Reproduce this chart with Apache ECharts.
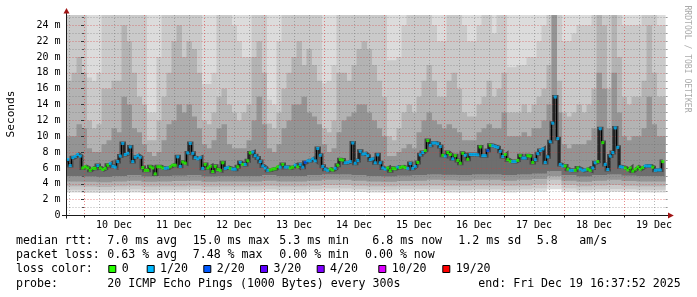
<!DOCTYPE html>
<html><head><meta charset="utf-8">
<script src="https://cdn.jsdelivr.net/npm/echarts@6/dist/echarts.min.js"></script>
<style>html,body{margin:0;padding:0;background:#fff}#c{width:697px;height:297px}</style>
</head><body><div id="c"></div>
<script>
// ---------------- data ----------------
const dayLabels = ['10 Dec','11 Dec','12 Dec','13 Dec','14 Dec','15 Dec','16 Dec','17 Dec','18 Dec','19 Dec'];
const yTickValues = [0,2,4,6,8,10,12,14,16,18,20,22,24];
const firstSampleHour = -6.5;   // hours relative to 10 Dec 00:00
const sampleHours = 1;
// median rtt in ms, one per hour
const median = [
7.07,6.3,7.3,7.45,7.7,7.5,6.0,6.15,6.0,5.7,5.95,5.95,6.3,6.0,5.8,5.95,6.35,6.55,6.2,6.1,6.8,7.5,9.1,7.7,7.85,8.65,6.8,7.35,7.55,7.35,
6.05,5.7,5.7,6.15,6.0,5.25,6.15,6.15,6.0,5.95,6.0,6.15,6.35,6.35,7.4,6.2,6.75,6.6,7.9,9.1,7.85,7.3,7.15,7.3,5.95,6.45,6.0,6.2,5.55,6.2,
5.8,5.7,6.65,5.95,6.05,5.95,5.85,5.85,6.15,6.7,6.45,6.45,6.9,7.9,8.0,7.55,7.25,6.8,6.25,6.0,5.7,5.75,5.85,5.9,6.15,6.1,6.45,6.1,6.1,6.0,
6.1,6.35,6.15,6.45,6.1,6.7,6.9,6.9,7.15,6.9,8.45,7.6,6.2,5.85,5.7,5.85,5.75,5.95,6.35,7.05,7.0,6.65,6.7,6.8,9.15,6.6,6.95,8.1,7.75,
7.8,7.55,7.05,7.15,6.65,7.65,6.65,6.0,5.85,6.0,5.65,5.95,5.9,6.1,6.05,6.15,6.05,5.95,6.55,5.95,6.2,6.7,7.65,7.95,8.2,9.45,8.85,9.15,9.15,9.05,
8.7,7.6,7.5,7.95,7.7,7.15,7.55,6.95,6.6,7.85,7.6,7.1,7.7,7.7,7.7,7.65,8.65,7.55,7.55,8.2,8.85,8.8,8.7,8.6,8.1,7.45,7.7,7.05,6.85,6.8,
6.8,6.95,7.55,7.25,7.25,7.55,7.5,6.7,7.05,7.8,8.2,8.4,6.7,7.4,9.3,11.65,14.95,9.7,6.45,6.25,6.25,5.85,5.7,5.7,5.7,6.0,5.85,5.7,5.75,5.85,
5.7,6.0,6.65,6.8,10.95,9.2,6.45,5.8,7.5,7.95,11.05,8.6,6.15,6.1,6.0,5.75,6.0,5.6,5.85,6.1,5.85,6.05,6.25,6.25,6.25,6.1,5.7,5.75,5.75,6.8
];
// packet loss level index per hour (0 -> '0', 1 -> '1/20', 2 -> '2/20')
const lossLevel = [
1,1,1,1,1,1,0,0,0,0,0,0,1,0,0,0,0,1,1,1,1,1,1,1,1,1,1,1,1,1,0,0,0,0,0,0,0,0,0,1,1,0,0,0,1,1,0,0,1,1,1,1,1,1,1,0,0,0,0,0,
0,0,0,1,1,0,1,1,0,1,0,1,0,0,1,1,1,1,1,1,1,0,0,0,0,1,0,1,1,0,0,1,0,1,1,2,1,1,1,1,1,1,1,1,1,0,0,1,0,0,0,1,1,1,1,1,1,1,1,
1,1,1,1,1,1,1,1,1,0,0,0,0,1,0,0,0,1,1,1,1,0,1,1,0,0,1,1,1,1,1,0,1,0,0,1,0,0,0,0,1,0,1,1,1,1,0,1,1,2,0,1,1,1,1,1,0,0,0,1,
1,0,0,1,1,0,0,0,1,1,1,1,1,1,1,1,1,1,1,1,0,0,1,1,0,0,1,1,1,0,0,1,1,0,1,0,1,1,1,1,1,1,1,1,0,0,0,0,0,0,0,0,1,1,1,0,1,1,1,0
];
const lossColors = ['#26ff00','#00b8ff','#0059ff','#5e00ff','#7e00ff','#dd00ff','#ff0000'];
const lossLabels = ['0','1/20','2/20','3/20','4/20','10/20','19/20'];

// smoke: upper edges of the grey layers, one value per 2-hour block (ms)
const smokeTopHours = 2;
const smokeTop1 = [26,26,26,26,17.4,17,18,26,26,26, 26,26,26,26,26,26,13,13,20,26, 26,26,26,26,26,26,26,16.6,16.6,18,
  26,26,26,24,22,20,20,26,26,26, 14.6,14,22,26,26,26,26,26,26,26, 26,16.7,17,19,26,26,26,26,26,26,
  26,26,26,26,19.6,19.6,20,24,26,26, 26,26,26,24,22,22,26,26,26,24, 22,22,24,26,26,23,26,26,18.7,18.7,
  19,19,20,20,22,24,26,26,26,22, 22,23,24,24,24,26,26,26,26,26, 26,24,24,24,24,26,26,26,24,24];
const smokeTop2 = [17,18,20,18,12,11,11.5,16,16,17, 17,24,22,18,15,14,9.5,9.5,12,15, 18,22,24,20,22,21,18,12,11.5,13,
  15,16,14,13,12,13,14,20,22,18, 11.6,11,13,16,18,20,22,19,21,19, 17,11,10.5,12,18,18,17,19,21,22,
  21,19,17,15,10,9.5,11,13,14,13, 15,17,19,17,15,15,17,18,16,13, 12.5,12.5,14,15,17,15,16,18,13,13,
  13,14,13,14,15,16,19,26,17,13, 12.5,13,14,13,14,16,26,24,16,26, 20,15,14,15,15,17,24,18,15,15];
const smokeTop3 = [10,10,11.5,11,8.5,8,8,9,9.5,11, 10.5,15,14,11,10.5,9,8,7.5,8,9.5, 11.5,12,14,13,14,12.5,11,9,8.5,9.5,
  11,11.5,9,8.5,8.5,8.5,9.5,12,15,11.5, 8.5,8,9,11,12,14,14,15,13,12.5, 11.5,9,8,8.5,10.5,12,12.5,13,14,14,
  13,12,11,10,7.5,7.5,8,8.5,9,8.5, 10.5,12,13,12,11.5,11,11.5,11,10.5,9.5, 9.5,9.5,10.5,11,11.5,11,11,13,10,10,
  10,10.5,10,11,11,12,14,26,13,9, 8.5,9,9,9,9.5,11,18,16,11,18, 13,10,9.5,10,10,11,15,11.5,10,10];
// smoke: lower edges of the grey layers, one value per 6-hour block (ms)
const smokeLowHours = 6;
const smokeTop0 = [26,26,26,26,26,26,26,26,26,26,26,26,26,26,26,26,26,26,26,26,26,26,26,26,26,26,26,26,26,26,26,26,26,26,26,26,26,26,26,26];
const smokeLow0 = [2.9,2.85,2.85,2.9,2.9,2.85,2.9,2.9,2.9,2.85,2.9,2.9,2.9,2.95,2.9,2.9,2.95,3.0,3.0,2.95,2.9,2.9,2.95,2.95,2.95,2.9,2.9,2.95,2.95,2.9,2.95,3.0,3.3,3.0,2.9,2.95,3.0,2.95,2.9,2.9];
const smokeLow1 = [3.25,3.2,3.2,3.25,3.3,3.2,3.25,3.25,3.3,3.2,3.25,3.25,3.25,3.3,3.25,3.25,3.3,3.4,3.4,3.3,3.25,3.25,3.3,3.3,3.3,3.25,3.25,3.3,3.3,3.25,3.3,3.4,3.9,3.4,3.25,3.3,3.35,3.3,3.25,3.25];
const smokeLow2 = [3.7,3.65,3.6,3.7,3.75,3.65,3.7,3.7,3.75,3.65,3.7,3.7,3.7,3.75,3.7,3.7,3.75,3.85,3.85,3.75,3.7,3.7,3.75,3.75,3.8,3.75,3.75,3.8,3.8,3.75,3.8,3.9,4.5,3.85,3.7,3.8,3.85,3.75,3.7,3.7];
const smokeLow3 = [4.3,4.25,4.2,4.3,4.4,4.25,4.3,4.35,4.4,4.25,4.3,4.3,4.3,4.4,4.3,4.3,4.4,4.5,4.5,4.4,4.3,4.25,4.35,4.4,4.5,4.45,4.4,4.5,4.5,4.4,4.5,4.6,5.0,4.4,4.25,4.4,4.5,4.35,4.3,4.3];
const smokeLow4 = [5.0,4.95,4.9,5.0,5.1,4.95,5.0,5.05,5.1,4.95,5.0,5.0,5.0,5.1,5.0,5.0,5.1,5.2,5.2,5.1,5.0,4.95,5.05,5.1,5.2,5.15,5.1,5.2,5.2,5.1,5.2,5.3,5.6,5.1,4.95,5.1,5.2,5.05,5.0,5.0];

// ---------------- layout ----------------
const W = 697, H = 297;
const G = {left:66.5, top:15, right:31.4, bottom:81.5};
const X_MIN = -7, X_MAX = 232.63, Y_MAX = 25.3;
const MONO = '"DejaVu Sans Mono", monospace';
const majorGrid = 'rgba(215,60,60,0.6)';
const minorGrid = 'rgba(110,110,110,0.5)';

const midnights = dayLabels.map((_, k) => 24 * k);
const noons = dayLabels.map((_, k) => 12 + 24 * k);
const sixHours = [];
for (let h = -6; h < X_MAX; h += 6) if (h % 24 !== 0) sixHours.push(h);
const yOdd = yTickValues.map(v => v + 1);
const yAll = [];
for (let v = 1; v <= 25; v++) yAll.push(v);

const hourOf = i => firstSampleHour + i * sampleHours;
const t0 = firstSampleHour - sampleHours / 2;

// build [h0, h1, lo, hi] cells: tops at one resolution, lows at another
function cells(tops, topHours, lows, lowHours) {
  return tops.map((hi, k) => {
    const h0 = t0 + k * topHours;
    const lo = lows[Math.floor((k * topHours) / lowHours)];
    return [h0, h0 + topHours, lo, hi];
  });
}
function bandSeries(data, color, z) {
  return {
    type: 'custom', z: z || 1, silent: true, clip: true,
    xAxisIndex: 0, yAxisIndex: 0,
    encode: {x: [0, 1], y: [2, 3]},
    renderItem(params, api) {
      const p0 = api.coord([api.value(0), api.value(3)]);
      const p1 = api.coord([api.value(1), api.value(2)]);
      const r = echarts.graphic.clipRectByRect(
        {x: p0[0], y: p0[1], width: p1[0] - p0[0] + 0.5, height: p1[1] - p0[1]}, params.coordSys);
      return r && {type: 'rect', shape: r, style: {fill: color}};
    },
    data
  };
}

const medianData = median.map((v, i) => [hourOf(i), v]);

const series = [
  bandSeries(cells(smokeTop0, smokeLowHours, smokeLow0, smokeLowHours), '#dcdcdc'),
  bandSeries(cells(smokeTop1, smokeTopHours, smokeLow1, smokeLowHours), '#cacaca'),
  bandSeries(cells(smokeTop2, smokeTopHours, smokeLow2, smokeLowHours), '#b3b3b3'),
  bandSeries(cells(smokeTop3, smokeTopHours, smokeLow3, smokeLowHours), '#949494'),
  bandSeries(cells(median, sampleHours, smokeLow4, smokeLowHours), '#6e6e6e'),
  {type:'line', z:1, silent:true, step:'middle', symbol:'none', data: medianData,
   lineStyle:{width:4, color:'#484848', cap:'butt', join:'miter'}},
  {type:'line', z:3, silent:true, step:'middle', symbol:'none', data: medianData,
   lineStyle:{width:1, color:'#000'}},
  {type:'scatter', z:4, silent:true, symbol:'rect', symbolSize:[3,3], data: medianData,
   itemStyle:{color: p => lossColors[lossLevel[p.dataIndex]]}}
];

// ---------------- legend / decorations ----------------
const gx0 = G.left, gy0 = H - G.bottom;
const graphics = [];
const txt = (x, y, s, opt = {}) => graphics.push(Object.assign({
  type:'text', x, y, z:100, silent:true,
  style: Object.assign({text:s, font:'11.6px ' + MONO, fill:'#000', verticalAlign:'middle', align:'left'}, opt.style || {})
}, opt.el || {}));

const legendRows = [
  {y:241, items:[[16,'median rtt:'],[107.3,'7.0 ms avg'],[192.7,'15.0 ms max'],[279.3,'5.3 ms min'],[372.3,'6.8 ms now'],[458.3,'1.2 ms sd'],[536.7,'5.8'],[579.3,'am/s']]},
  {y:255.3, items:[[16,'packet loss:'],[107.3,'0.63 % avg'],[192.7,'7.48 % max'],[279.3,'0.00 % min'],[365,'0.00 % now']]},
  {y:269.3, items:[[16,'loss color:']]},
  {y:283.7, items:[[16,'probe:'],[107.3,'20 ICMP Echo Pings (1000 Bytes) every 300s'],[478.3,'end: Fri Dec 19 16:37:52 2025']]}
];
legendRows.forEach(r => r.items.forEach(([x, s]) => txt(x, r.y, s)));
const boxX = [108.3,146.7,203.3,260,316.7,378.3,442.3];
lossLabels.forEach((lab, k) => {
  graphics.push({type:'rect', z:100, silent:true, shape:{x:boxX[k] + 0.5, y:265.5, width:7, height:7},
    style:{fill:lossColors[k], stroke:'#000', lineWidth:1}});
  txt(boxX[k] + 13.4, 269.3, lab);
});
txt(11, 114, 'Seconds', {style:{align:'center', font:'11.2px ' + MONO}, el:{rotation: Math.PI / 2}});
txt(687.5, 59, 'RRDTOOL / TOBI OETIKER', {style:{align:'center', font:'8.1px ' + MONO, fill:'#aaaaaa'}, el:{rotation: -Math.PI / 2}});
graphics.push({type:'line', z:90, silent:true, shape:{x1:62, y1:gy0, x2:668.5, y2:gy0}, style:{stroke:'#1a1a1a', lineWidth:1}});
graphics.push({type:'line', z:90, silent:true, shape:{x1:gx0, y1:gy0 + 3, x2:gx0, y2:13}, style:{stroke:'#1a1a1a', lineWidth:1}});
graphics.push({type:'polygon', z:91, silent:true, shape:{points:[[gx0 - 3, 13.5],[gx0 + 3, 13.5],[gx0, 8]]}, style:{fill:'#a01414'}});
graphics.push({type:'polygon', z:91, silent:true, shape:{points:[[668, gy0 - 3],[668, gy0 + 3],[673.8, gy0]]}, style:{fill:'#a01414'}});

const chart = echarts.init(document.getElementById('c'), null, {renderer:'canvas', width:W, height:H});
chart.setOption({
  animation:false,
  backgroundColor:'#fff',
  grid:{left:G.left, top:G.top, right:G.right, bottom:G.bottom, containLabel:false},
  xAxis:[
    {type:'value', min:X_MIN, max:X_MAX, z:2,
     axisLine:{show:false},
     axisTick:{show:true, customValues:midnights, length:2, lineStyle:{color:'#1a1a1a'}},
     axisLabel:{show:true, customValues:noons, margin:5, fontFamily:MONO, fontSize:10, color:'#000',
       formatter: v => dayLabels[Math.round((v - 12) / 24)]},
     splitLine:{show:true, lineStyle:{color:majorGrid, type:[1,2], width:1}}},
    {type:'value', min:X_MIN, max:X_MAX, z:2, position:'bottom',
     axisLine:{show:false}, axisLabel:{show:false},
     axisTick:{show:false, customValues:sixHours},
     splitLine:{show:true, lineStyle:{color:minorGrid, type:[1,2], width:1}}}
  ],
  yAxis:[
    {type:'value', min:0, max:Y_MAX, z:2,
     axisLine:{show:false},
     axisTick:{show:true, customValues:yTickValues, length:3, lineStyle:{color:'#333'}},
     axisLabel:{show:true, customValues:yTickValues, margin:6, fontFamily:MONO, fontSize:10, color:'#000',
       formatter: v => v === 0 ? '0' : v + ' m'},
     splitLine:{show:true, lineStyle:{color:majorGrid, type:[1,2], width:1}}},
    {type:'value', min:0, max:Y_MAX, z:2, position:'left',
     axisLine:{show:false}, axisLabel:{show:false},
     axisTick:{show:true, customValues:yOdd, length:2, lineStyle:{color:'#555'}},
     splitLine:{show:true, lineStyle:{color:minorGrid, type:[1,2], width:1}}},
    {type:'value', min:0, max:Y_MAX, z:2, position:'right',
     axisLine:{show:false}, axisLabel:{show:false},
     axisTick:{show:true, customValues:yAll, length:2, lineStyle:{color:'#999'}},
     splitLine:{show:false}}
  ],
  series: series,
  graphic: graphics
});
</script>
</body></html>
